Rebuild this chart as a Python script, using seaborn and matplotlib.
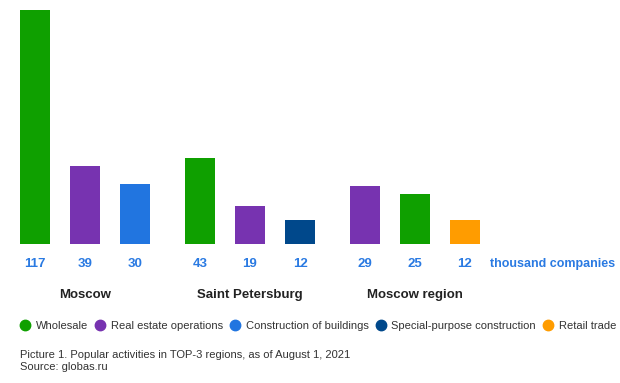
import matplotlib
matplotlib.use("Agg")
import matplotlib.pyplot as plt
from matplotlib.lines import Line2D
import pandas as pd
import seaborn as sns

# data (thousand companies)
regions = ["Moscow", "Saint Petersburg", "Moscow region"]
activities = [
    ["Wholesale", "Real estate operations", "Construction of buildings"],
    ["Wholesale", "Real estate operations", "Special-purpose construction"],
    ["Real estate operations", "Wholesale", "Retail trade"],
]
values = [
    [117, 39, 30],
    [43, 19, 12],
    [29, 25, 12],
]
legend_order = ["Wholesale", "Real estate operations", "Construction of buildings",
                "Special-purpose construction", "Retail trade"]
colors = {
    "Wholesale": "#0fa000",
    "Real estate operations": "#7733b0",
    "Construction of buildings": "#2175e0",
    "Special-purpose construction": "#00488b",
    "Retail trade": "#ff9c00",
}
unit_label = "thousand companies"
caption = "Picture 1. Popular activities in TOP-3 regions, as of August 1, 2021\nSource: globas.ru"

# layout: bars 50 px apart, extra gap between regions
rows = []
for g, region in enumerate(regions):
    for i, (act, val) in enumerate(zip(activities[g], values[g])):
        rows.append({"region": region, "activity": act, "value": val,
                     "pos": 35 + g * 165 + i * 50})
df = pd.DataFrame(rows)

W, H = 620, 383
fig = plt.figure(figsize=(W / 100, H / 100), dpi=100)
ax = fig.add_axes([0, 0, 1, 1])

sns.barplot(data=df, x="pos", y="value", hue="activity", hue_order=legend_order,
            palette=colors, native_scale=True, dodge=False, width=0.6,
            saturation=1, legend=False, ax=ax)

# axis = pixel space: baseline at 244 px from top, 2 px per unit
ax.set_xlim(0, W)
ax.set_ylim(-(H - 244) / 2, 244 / 2)
ax.axis("off")

plt.rcParams["font.family"] = ["Liberation Sans", "DejaVu Sans"]
blue = "#2a7ae2"
font = "Liberation Sans"

for _, r in df.iterrows():
    fig.text(r["pos"] / W, 1 - 264 / H, str(r["value"]), ha="center", va="center",
             color=blue, fontsize=9.5, fontweight="bold", family=font)
fig.text(490 / W, 1 - 264 / H, unit_label, ha="left", va="center",
         color=blue, fontsize=9, fontweight="bold", family=font)

for g, region in enumerate(regions):
    cx = df[df["region"] == region]["pos"].mean()
    fig.text(cx / W, 1 - 295 / H, region, ha="center", va="center",
             color="#222222", fontsize=9.5, fontweight="bold", family=font)

handles = [Line2D([], [], marker="o", linestyle="", markersize=7.5,
                  markerfacecolor=colors[a], markeredgecolor=colors[a]) for a in legend_order]
fig.legend(handles, legend_order, loc="center", bbox_to_anchor=(318 / W, 1 - 326 / H),
           ncol=5, frameon=False, handlelength=1.0, handletextpad=0.45, columnspacing=0.6,
           borderpad=0, borderaxespad=0,
           prop={"family": font, "size": 8}, labelcolor="#333333")

fig.text(20 / W, 1 - 361 / H, caption, ha="left", va="center", color="#333333",
         fontsize=8, family=font, linespacing=1.25)

fig.savefig("out.png", dpi=100)
